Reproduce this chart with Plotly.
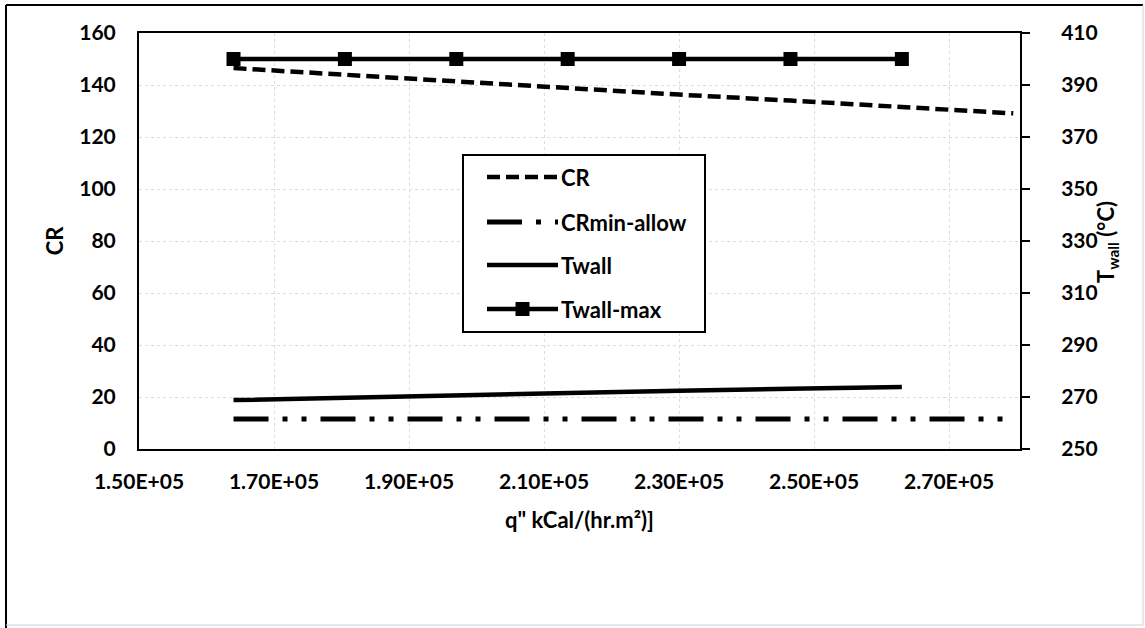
import plotly.graph_objects as go

# ---- data ----
q_flux = [164000, 180500, 197000, 213500, 230000, 246500, 263000, 279500]
cr_values = [146.5, 143.9, 141.3, 138.8, 136.3, 134.0, 131.7, 129.1]
cr_min_allow = [11.5, 11.5, 11.5, 11.5, 11.5, 11.5, 11.5, 11.5]
q_wall = [164000, 180500, 197000, 213500, 230000, 246500, 263000]
t_wall = [268.8, 269.8, 270.8, 271.5, 272.4, 273.2, 273.8]
t_wall_max = [400, 400, 400, 400, 400, 400, 400]

x_tickvals = [150000, 170000, 190000, 210000, 230000, 250000, 270000]
x_ticktext = ["1.50E+05", "1.70E+05", "1.90E+05", "2.10E+05", "2.30E+05", "2.50E+05", "2.70E+05"]
y_left_ticks = [0, 20, 40, 60, 80, 100, 120, 140, 160]
y_right_ticks = [250, 270, 290, 310, 330, 350, 370, 390, 410]

legend_names = ["CR", "CRmin-allow", "Twall", "Twall-max"]

FONT = "Lato"
W, H = 1145, 628
L, R, T, B = 139, 125, 33, 179
PW, PH = W - L - R, H - T - B

CR_DASH = "13px,6px"
MIN_DASH = "35px,14px,5px,14px,5px,14px"

fig = go.Figure()
fig.add_trace(go.Scatter(x=q_flux, y=cr_values, mode="lines", name=legend_names[0],
                         line=dict(color="black", width=4.5, dash=CR_DASH)))
fig.add_trace(go.Scatter(x=q_flux, y=cr_min_allow, mode="lines", name=legend_names[1],
                         line=dict(color="black", width=5, dash=MIN_DASH)))
fig.add_trace(go.Scatter(x=q_wall, y=t_wall, mode="lines", name=legend_names[2], yaxis="y2",
                         line=dict(color="black", width=4.5)))
fig.add_trace(go.Scatter(x=q_wall, y=t_wall_max, mode="lines+markers", name=legend_names[3], yaxis="y2",
                         line=dict(color="black", width=4.5),
                         marker=dict(symbol="square", size=14, color="black")))

tickfont = dict(family=FONT, size=21, color="black", weight="bold")
titlefont = dict(family=FONT, size=22, color="black", weight="bold")

fig.update_layout(
    width=W, height=H,
    margin=dict(l=L, r=R, t=T, b=B),
    paper_bgcolor="white", plot_bgcolor="white",
    showlegend=False,
    font=dict(family=FONT, color="black"),
    xaxis=dict(range=[150000, 280500], tickvals=x_tickvals, ticktext=x_ticktext,
               tickfont=tickfont, showline=True, linecolor="black", linewidth=2, mirror=True,
               showgrid=True, gridcolor="#dcdcdc", griddash="dot", gridwidth=1,
               zeroline=False, ticks="", ticklabelstandoff=13,
               title=dict(text='q" kCal/(hr.m²)]', font=titlefont, standoff=20)),
    yaxis=dict(range=[0, 160], tickvals=y_left_ticks, tickfont=tickfont,
               showline=True, linecolor="black", linewidth=2, mirror=True,
               showgrid=True, gridcolor="#dcdcdc", griddash="dot", gridwidth=1,
               zeroline=False, ticks="", ticklabelstandoff=17,
               title=dict(text="CR", font=titlefont, standoff=10)),
    yaxis2=dict(range=[250, 410], tickvals=y_right_ticks, tickfont=tickfont,
                overlaying="y", side="right",
                showline=True, linecolor="black", linewidth=2,
                showgrid=False, zeroline=False, ticks="outside", ticklen=8, tickwidth=2,
                tickcolor="black", ticklabelstandoff=27),
)

def px(xp):
    return (xp - L) / PW

def py(yp):
    return (H - B - yp) / PH

shapes = []
# outer chart frame
shapes.append(dict(type="line", xref="paper", yref="paper", x0=px(6), x1=px(6), y0=py(5), y1=py(628),
                   line=dict(color="black", width=2)))
shapes.append(dict(type="line", xref="paper", yref="paper", x0=px(6), x1=px(1143), y0=py(5), y1=py(5),
                   line=dict(color="black", width=2)))
shapes.append(dict(type="line", xref="paper", yref="paper", x0=px(1143), x1=px(1143), y0=py(5), y1=py(625),
                   line=dict(color="#d0d0d0", width=1)))
shapes.append(dict(type="line", xref="paper", yref="paper", x0=px(6), x1=px(1143), y0=py(625), y1=py(625),
                   line=dict(color="#d0d0d0", width=1)))

annotations = []
# right axis title
annotations.append(dict(xref="paper", yref="paper", x=px(1107), y=py(242), text="T<sub>wall</sub> (°C)",
                        textangle=-90, showarrow=False, xanchor="center", yanchor="middle",
                        font=titlefont))

# legend box
shapes.append(dict(type="rect", xref="paper", yref="paper", x0=px(463), x1=px(705), y0=py(332), y1=py(155),
                   line=dict(color="black", width=2), fillcolor="white", layer="above"))
leg_y = [177, 222, 265, 309]
leg_styles = [dict(color="black", width=4.5, dash=CR_DASH),
              dict(color="black", width=5, dash=MIN_DASH),
              dict(color="black", width=4.5),
              dict(color="black", width=4.5)]
for name, yy, st in zip(legend_names, leg_y, leg_styles):
    shapes.append(dict(type="line", xref="paper", yref="paper", x0=px(487), x1=px(558), y0=py(yy), y1=py(yy),
                       line=st, layer="above"))
    annotations.append(dict(xref="paper", yref="paper", x=px(559), y=py(yy), text=name, showarrow=False,
                            xanchor="left", yanchor="middle",
                            font=dict(family=FONT, size=22, color="black", weight="bold")))
shapes.append(dict(type="rect", xref="paper", yref="paper", x0=px(515.5), x1=px(529.5),
                   y0=py(leg_y[3] + 7), y1=py(leg_y[3] - 7),
                   line=dict(color="black", width=0), fillcolor="black", layer="above"))

fig.update_layout(shapes=shapes, annotations=annotations)
fig.write_html("out.html")
